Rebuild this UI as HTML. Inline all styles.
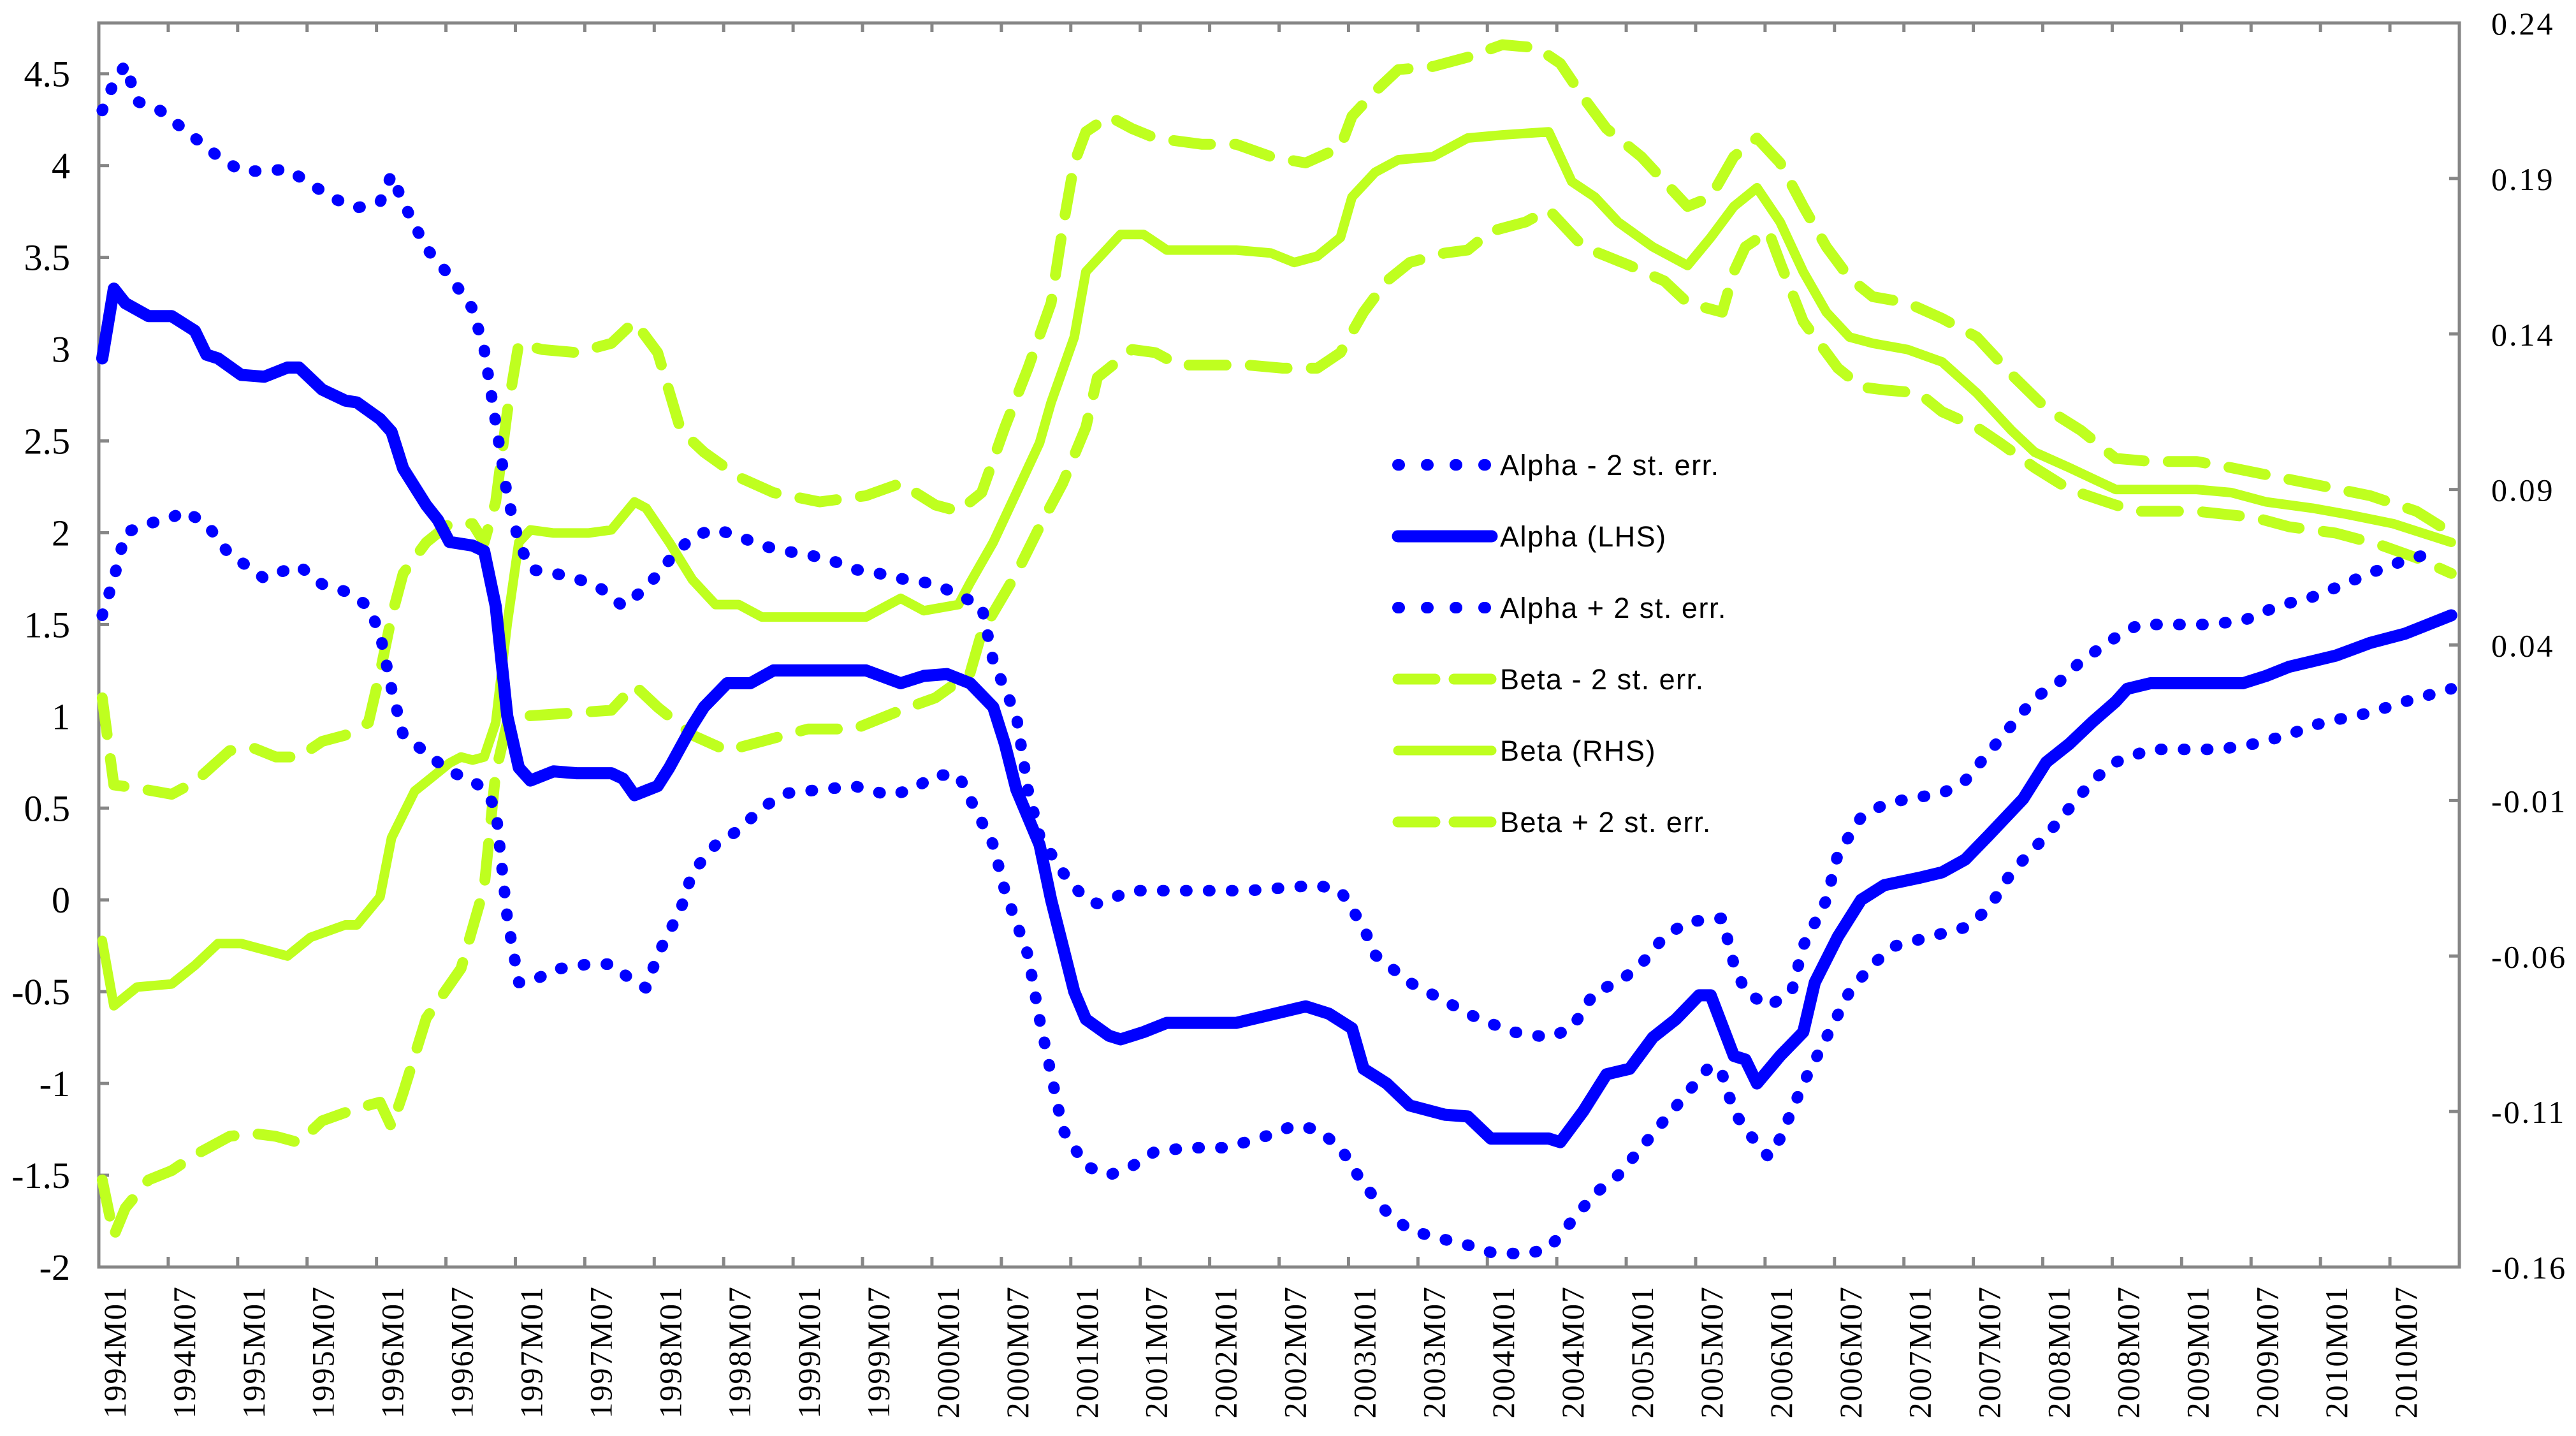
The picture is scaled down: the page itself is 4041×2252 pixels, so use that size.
<!DOCTYPE html>
<html><head><meta charset="utf-8"><style>
html,body{margin:0;padding:0;background:#fff;}
svg{display:block;}
</style></head><body>
<svg id="chart" width="4041" height="2252" viewBox="0 0 4041 2252" xmlns="http://www.w3.org/2000/svg">
<rect x="0" y="0" width="4041" height="2252" fill="#fff"/>
<g id="grid"></g>
<g id="series"></g>
<g id="legend"></g>
</svg>
<script>
// ---- data ----
const monthLabels = ["1994M01","1994M07","1995M01","1995M07","1996M01","1996M07","1997M01","1997M07","1998M01","1998M07","1999M01","1999M07","2000M01","2000M07","2001M01","2001M07","2002M01","2002M07","2003M01","2003M07","2004M01","2004M07","2005M01","2005M07","2006M01","2006M07","2007M01","2007M07","2008M01","2008M07","2009M01","2009M07","2010M01","2010M07"];
const leftTicks = [-2,-1.5,-1,-0.5,0,0.5,1,1.5,2,2.5,3,3.5,4,4.5];
const leftTickLabels = ["-2","-1.5","-1","-0.5","0","0.5","1","1.5","2","2.5","3","3.5","4","4.5"];
const rightTicks = [-0.16,-0.11,-0.06,-0.01,0.04,0.09,0.14,0.19,0.24];
const rightTickLabels = ["-0.16","-0.11","-0.06","-0.01","0.04","0.09","0.14","0.19","0.24"];

const alphaMonths = [0,1,2,4,6,8,9,10,12,14,16,17,19,21,22,24,25,26,28,29,30,32,33,34,35,36,37,39,41,44,45,46,48,49,51,52,54,56,58,62,66,69,71,73,75,77,78,79,81,82,83,84,85,87,88,90,92,98,100,104,106,108,109,111,113,116,118,120,125,126,128,130,132,134,136,138,139,141,142,143,145,147,148,150,152,154,157,159,161,163,166,168,170,172,174,175,177,185,187,189,191,193,196,199,203];
const alphaVals = [2.95,3.33,3.25,3.18,3.18,3.1,2.97,2.95,2.86,2.85,2.9,2.9,2.78,2.72,2.71,2.62,2.55,2.35,2.15,2.07,1.95,1.93,1.9,1.6,1.0,0.72,0.65,0.7,0.69,0.69,0.66,0.57,0.62,0.72,0.95,1.05,1.18,1.18,1.25,1.25,1.25,1.18,1.22,1.23,1.18,1.05,0.85,0.6,0.3,0.0,-0.25,-0.5,-0.65,-0.74,-0.76,-0.72,-0.67,-0.67,-0.64,-0.58,-0.62,-0.7,-0.92,-1.0,-1.12,-1.17,-1.18,-1.3,-1.3,-1.32,-1.15,-0.95,-0.92,-0.75,-0.65,-0.52,-0.52,-0.85,-0.87,-1.0,-0.85,-0.72,-0.45,-0.2,0.0,0.08,0.12,0.15,0.22,0.35,0.55,0.75,0.85,0.97,1.08,1.15,1.18,1.18,1.22,1.27,1.3,1.33,1.4,1.45,1.55];

const alphaUpMonths = [0,1,2,3,5,7,10,12,14,16,18,20,22,24,25,26,28,30,32,33,34,35,36,37,39,41,43,45,47,49,51,53,55,57,59,61,63,65,67,69,72,76,77,79,80,81,83,85,86,89,93,99,105,107,109,110,113,116,119,122,125,127,129,131,133,135,137,140,141,142,144,146,147,149,150,152,154,156,159,161,163,165,167,169,171,174,176,182,185,188,191,193,196,199,202];
const alphaUpVals = [4.3,4.45,4.55,4.35,4.3,4.2,4.05,3.97,3.97,3.98,3.9,3.82,3.77,3.8,3.95,3.8,3.55,3.4,3.22,3.0,2.6,2.2,1.95,1.8,1.78,1.75,1.7,1.6,1.7,1.85,1.98,2.02,1.98,1.93,1.9,1.88,1.85,1.8,1.78,1.75,1.72,1.6,1.3,1.0,0.6,0.35,0.15,0.0,-0.02,0.05,0.05,0.05,0.08,0.05,-0.15,-0.3,-0.45,-0.55,-0.65,-0.72,-0.75,-0.7,-0.5,-0.45,-0.35,-0.2,-0.12,-0.1,-0.35,-0.5,-0.58,-0.5,-0.25,0.0,0.25,0.45,0.52,0.55,0.58,0.65,0.8,0.95,1.1,1.18,1.3,1.43,1.5,1.5,1.52,1.6,1.65,1.7,1.78,1.85,1.9];

const alphaLoMonths = [0,1,2,4,6,7,9,11,13,14,16,17,19,21,23,24,25,26,28,30,32,33,34,35,36,37,39,42,44,46,47,48,50,51,53,55,57,59,62,65,68,70,72,74,75,77,78,80,81,82,83,85,87,89,91,94,97,100,103,105,107,109,111,113,116,118,120,123,125,127,129,131,133,135,137,139,140,141,142,144,145,147,149,151,153,155,158,161,163,165,168,170,172,174,177,183,186,189,191,193,196,199,203];
const alphaLoVals = [1.55,1.75,2.0,2.05,2.08,2.12,2.05,1.88,1.8,1.75,1.8,1.82,1.72,1.68,1.6,1.45,1.15,0.9,0.8,0.7,0.65,0.6,0.5,-0.1,-0.45,-0.45,-0.38,-0.35,-0.35,-0.45,-0.48,-0.3,-0.05,0.15,0.3,0.38,0.5,0.58,0.6,0.62,0.57,0.6,0.68,0.68,0.55,0.3,0.05,-0.3,-0.65,-0.95,-1.25,-1.45,-1.5,-1.45,-1.37,-1.35,-1.35,-1.3,-1.23,-1.25,-1.35,-1.55,-1.7,-1.8,-1.85,-1.88,-1.92,-1.93,-1.9,-1.75,-1.6,-1.5,-1.35,-1.2,-1.05,-0.9,-0.95,-1.15,-1.25,-1.4,-1.3,-1.0,-0.75,-0.5,-0.35,-0.25,-0.2,-0.15,-0.05,0.15,0.35,0.5,0.65,0.75,0.82,0.82,0.85,0.9,0.95,0.98,1.02,1.08,1.15];

const betaMonths = [0,1,3,6,8,10,12,14,16,18,21,22,24,25,27,28,30,31,32,33,34,35,36,37,39,42,44,46,47,49,51,53,55,57,62,66,69,71,74,75,77,79,81,82,84,85,87,88,90,92,98,101,103,105,107,108,110,112,115,118,121,125,127,129,131,134,137,139,141,143,145,147,149,151,153,156,159,162,165,167,170,174,177,181,184,187,191,194,198,203];
const betaVals = [-0.055,-0.076,-0.07,-0.069,-0.063,-0.056,-0.056,-0.058,-0.06,-0.054,-0.05,-0.05,-0.041,-0.022,-0.007,-0.004,0.002,0.004,0.003,0.004,0.015,0.047,0.073,0.077,0.076,0.076,0.077,0.086,0.084,0.073,0.061,0.053,0.053,0.049,0.049,0.049,0.055,0.051,0.053,0.06,0.073,0.089,0.105,0.118,0.139,0.16,0.168,0.172,0.172,0.167,0.167,0.166,0.163,0.165,0.171,0.184,0.192,0.196,0.197,0.203,0.204,0.205,0.189,0.184,0.176,0.168,0.162,0.171,0.181,0.187,0.176,0.16,0.147,0.139,0.137,0.135,0.131,0.121,0.109,0.102,0.097,0.09,0.09,0.09,0.089,0.086,0.084,0.082,0.079,0.073];

const betaUpMonths = [0,1,3,6,8,11,13,15,17,19,21,23,24,25,26,28,30,32,33,34,35,36,38,41,44,46,48,50,52,55,58,62,66,69,72,74,76,78,80,82,83,84,85,87,89,91,95,98,101,104,107,108,110,112,115,118,121,124,126,128,130,133,135,137,139,141,143,145,147,149,151,153,156,159,162,165,168,171,174,177,181,184,188,192,196,200,203];
const betaUpVals = [0.023,-0.005,-0.006,-0.008,-0.004,0.006,0.007,0.004,0.004,0.009,0.011,0.015,0.031,0.049,0.063,0.073,0.079,0.079,0.073,0.086,0.115,0.137,0.135,0.134,0.137,0.144,0.134,0.109,0.102,0.094,0.089,0.086,0.088,0.092,0.085,0.083,0.089,0.11,0.129,0.15,0.174,0.195,0.205,0.21,0.206,0.203,0.201,0.201,0.197,0.195,0.2,0.21,0.218,0.225,0.226,0.229,0.233,0.232,0.227,0.216,0.206,0.197,0.189,0.181,0.184,0.197,0.203,0.195,0.181,0.168,0.158,0.152,0.15,0.145,0.139,0.127,0.116,0.109,0.1,0.099,0.099,0.097,0.094,0.091,0.088,0.083,0.076];

const betaLoMonths = [0,1,2,4,6,8,11,13,15,17,19,22,24,25,26,28,31,33,34,35,36,44,46,48,51,54,58,61,65,69,72,75,76,79,81,83,85,86,89,91,93,99,102,105,107,109,111,113,116,118,120,123,125,128,130,132,135,137,140,141,142,144,145,147,150,152,154,157,159,162,164,167,170,174,176,181,186,189,193,197,200,203];
const betaLoVals = [-0.132,-0.15,-0.141,-0.132,-0.129,-0.124,-0.118,-0.117,-0.118,-0.12,-0.113,-0.109,-0.107,-0.115,-0.104,-0.08,-0.064,-0.038,-0.001,0.015,0.017,0.019,0.027,0.02,0.011,0.006,0.01,0.013,0.013,0.019,0.023,0.031,0.044,0.063,0.078,0.092,0.11,0.126,0.135,0.134,0.13,0.13,0.129,0.129,0.134,0.147,0.157,0.163,0.166,0.167,0.173,0.176,0.18,0.168,0.165,0.162,0.157,0.15,0.147,0.16,0.168,0.173,0.163,0.144,0.129,0.123,0.122,0.121,0.115,0.11,0.105,0.097,0.09,0.085,0.083,0.083,0.081,0.078,0.076,0.072,0.068,0.063];

// ---- scales ----
const PL = 155, PR = 3858, PT = 36, PB = 1987, NM = 204;
const xTick = m => PL + m * (PR - PL) / NM;
const xData = m => PL + (m + 0.3) * (PR - PL) / NM;
const yL = v => PB - (v + 2) * (PB - PT) / 6.777;
const yR = v => PB - (v + 0.16) * (PB - PT) / 0.4;

const NS = "http://www.w3.org/2000/svg";
function mk(tag, parent) { const e = document.createElementNS(NS, tag); parent.appendChild(e); return e; }
const grid = document.getElementById('grid');
const series = document.getElementById('series');
const legend = document.getElementById('legend');
const AX = "#868686";

const frame = mk('path', grid);


frame.setAttribute('d', `M${PL},${PT} H${PR} V${PB} H${PL} Z`);
frame.setAttribute('fill', 'none'); frame.setAttribute('stroke', AX); frame.setAttribute('stroke-width', '5');

monthLabels.forEach((lab, k) => {
  const x = xTick(k * 6);
  const t = mk('line', grid);
  
  
  t.setAttribute('x1', x); t.setAttribute('x2', x); t.setAttribute('y1', PB); t.setAttribute('y2', PB - 16);
  t.setAttribute('stroke', AX); t.setAttribute('stroke-width', '5');
  const tx = mk('text', grid);
  
  
  tx.setAttribute('transform', `translate(${x + 42},2016) rotate(-90)`);
  tx.setAttribute('text-anchor', 'end');
  tx.setAttribute('font-family', '"Liberation Serif", serif');
  tx.setAttribute('font-size', '50');
  tx.setAttribute('letter-spacing', '2');
  tx.textContent = lab;
});
monthLabels.forEach((lab, k) => {
  const x = xTick(k * 6);
  const t = mk('line', grid);
  
  
  t.setAttribute('x1', x); t.setAttribute('x2', x); t.setAttribute('y1', PT); t.setAttribute('y2', PT + 14);
  t.setAttribute('stroke', AX); t.setAttribute('stroke-width', '5');
});
leftTicks.forEach((v, k) => {
  const y = yL(v);
  const t = mk('line', grid);
  
  
  t.setAttribute('x1', PL); t.setAttribute('x2', PL + 16); t.setAttribute('y1', y); t.setAttribute('y2', y);
  t.setAttribute('stroke', AX); t.setAttribute('stroke-width', '5');
  const tx = mk('text', grid);
  
  
  tx.setAttribute('x', 110); tx.setAttribute('y', y + 20);
  tx.setAttribute('text-anchor', 'end');
  tx.setAttribute('font-family', '"Liberation Serif", serif');
  tx.setAttribute('font-size', '58');
  tx.textContent = leftTickLabels[k];
});
rightTicks.forEach((v, k) => {
  const y = yR(v);
  const t = mk('line', grid);
  
  
  t.setAttribute('x1', PR - 16); t.setAttribute('x2', PR); t.setAttribute('y1', y); t.setAttribute('y2', y);
  t.setAttribute('stroke', AX); t.setAttribute('stroke-width', '5');
  const tx = mk('text', grid);
  
  
  tx.setAttribute('x', 3908); tx.setAttribute('y', y + 18);
  tx.setAttribute('font-family', '"Liberation Serif", serif');
  tx.setAttribute('font-size', '50');
  tx.setAttribute('letter-spacing', '3');
  tx.textContent = rightTickLabels[k];
});

const BLUE = "#0000FF", GREEN = "#BFFF1F";
const styles = {
  dot: { w: 18, dash: "2 34" },
  solidB: { w: 19, dash: null },
  solidG: { w: 15, dash: null },
  dashG: { w: 17, dash: "58 38" }
};
function drawLine(months, vals, ys, color, st, name) {
  const p = mk('polyline', series);
  
  
  p.setAttribute('points', months.map((m, i) => xData(m).toFixed(1) + ',' + ys(vals[i]).toFixed(1)).join(' '));
  p.setAttribute('fill', 'none'); p.setAttribute('stroke', color);
  p.setAttribute('stroke-width', st.w);
  p.setAttribute('stroke-linejoin', 'round'); p.setAttribute('stroke-linecap', 'round');
  if (st.dash) p.setAttribute('stroke-dasharray', st.dash);
}
drawLine(betaLoMonths, betaLoVals, yR, GREEN, styles.dashG, 'beta-minus-2se-line');
drawLine(betaUpMonths, betaUpVals, yR, GREEN, styles.dashG, 'beta-plus-2se-line');
drawLine(betaMonths, betaVals, yR, GREEN, styles.solidG, 'beta-line');
drawLine(alphaLoMonths, alphaLoVals, yL, BLUE, styles.dot, 'alpha-minus-2se-line');
drawLine(alphaUpMonths, alphaUpVals, yL, BLUE, styles.dot, 'alpha-plus-2se-line');
drawLine(alphaMonths, alphaVals, yL, BLUE, styles.solidB, 'alpha-line');

const legendItems = [
  ["Alpha - 2 st. err.", BLUE, styles.dot],
  ["Alpha (LHS)", BLUE, styles.solidB],
  ["Alpha + 2 st. err.", BLUE, styles.dot],
  ["Beta - 2 st. err.", GREEN, styles.dashG],
  ["Beta (RHS)", GREEN, styles.solidG],
  ["Beta + 2 st. err.", GREEN, styles.dashG]
];
legendItems.forEach((it, k) => {
  const y = 729 + k * 112;
  const g = mk('g', legend);
  
  
  const l = mk('line', g);
  
  
  l.setAttribute('x1', 2193); l.setAttribute('x2', 2340); l.setAttribute('y1', y); l.setAttribute('y2', y);
  l.setAttribute('stroke', it[1]); l.setAttribute('stroke-width', it[2].w); l.setAttribute('stroke-linecap', 'round');
  if (it[2].dash) l.setAttribute('stroke-dasharray', it[2] === styles.dot ? "2 43" : "58 30");
  const t = mk('text', g);
  
  
  t.setAttribute('x', 2353); t.setAttribute('y', y + 16);
  t.setAttribute('font-family', '"Liberation Sans", sans-serif');
  t.setAttribute('font-size', '45');
  t.setAttribute('letter-spacing', '1.5');
  t.textContent = it[0];
});
</script>
</body></html>
